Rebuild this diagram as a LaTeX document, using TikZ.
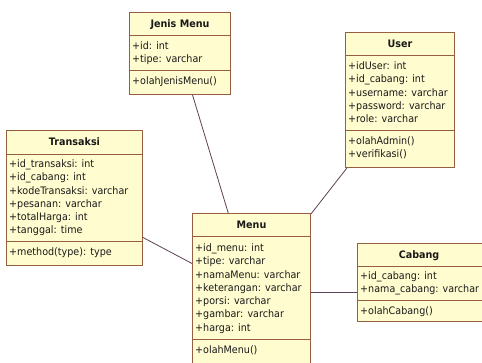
\documentclass[tikz,border=0pt]{standalone}
\usepackage{fontspec}
\setmainfont{DejaVu Sans}[FakeStretch=0.93]
\usetikzlibrary{calc}
\definecolor{clsfill}{RGB}{255,252,207}
\definecolor{clsline}{RGB}{150,95,65}
\definecolor{conn}{RGB}{95,65,85}
\definecolor{txtc}{RGB}{25,25,25}
\tikzset{
  classbox/.style={draw=clsline, fill=clsfill, line width=1pt, inner sep=0pt, rectangle, anchor=north west},
  divider/.style={draw=clsline, line width=1pt},
  classtitle/.style={font=\fontsize{10.3}{12}\selectfont\bfseries, text=txtc, inner sep=0pt, anchor=base},
  member/.style={font=\fontsize{10.3}{12}\selectfont, text=txtc, inner sep=0pt, anchor=base west},
  assoc/.style={draw=conn, line width=0.8pt},
}
\newcommand{\umlrows}[4]{%
  \foreach \t [count=\i] in {#4} {\node[member] (#2\i) at ($(#1.north west)+(3,{#3+3.5+(\i-1)*13.3})$) {\t};}}
\newcommand{\umldiv}[2]{%
  \draw[divider] ($(#1.north west)+(0,#2)$) -- ($(#1.north east)+(0,#2)$);}
\begin{document}
\begin{tikzpicture}[x=1pt,y=-1pt]
\useasboundingbox (0,0) rectangle (482,363);
\fill[white] (0,0) rectangle (482,363);
\clip (0,0) rectangle (482,363);

% Jenis Menu
\node[classbox, minimum width=101pt, minimum height=82pt] (jm) at (129,12) {};
\node[classtitle] (jmT) at ($(jm.north)+(0,15.8)$) {Jenis Menu};
\umldiv{jm}{24}
\umlrows{jm}{jmA}{34}{+id: int, +tipe: varchar}
\umldiv{jm}{58.8}
\umlrows{jm}{jmM}{69.3}{+olahJenisMenu()}

% User
\node[classbox, minimum width=109pt, minimum height=135pt] (user) at (345,32) {};
\node[classtitle] (userT) at ($(user.north)+(0,15.8)$) {User};
\umldiv{user}{24}
\umlrows{user}{userA}{34}{+idUser: int, +id\_cabang: int, +username: varchar, +password: varchar, +role: varchar}
\umldiv{user}{98.7}
\umlrows{user}{userM}{109.2}{+olahAdmin(), +verifikasi()}

% Transaksi
\node[classbox, minimum width=136pt, minimum height=135pt] (tr) at (6,130) {};
\node[classtitle] (trT) at ($(tr.north)+(0,16)$) {Transaksi};
\umldiv{tr}{24.5}
\umlrows{tr}{trA}{34}{+id\_transaksi: int, +id\_cabang: int, +kodeTransaksi: varchar, +pesanan: varchar, +totalHarga: int, +tanggal: time}
\umldiv{tr}{112}
\umlrows{tr}{trM}{122.5}{+method(type): type}

% Menu
\node[classbox, minimum width=118pt, minimum height=153pt] (menu) at (192,213) {};
\node[classtitle] (menuT) at ($(menu.north)+(0,16)$) {Menu};
\umldiv{menu}{24}
\umlrows{menu}{menuA}{35}{+id\_menu: int, +tipe: varchar, +namaMenu: varchar, +keterangan: varchar, +porsi: varchar, +gambar: varchar, +harga: int}
\umldiv{menu}{126.5}
\umlrows{menu}{menuM}{137}{+olahMenu()}

% Cabang
\node[classbox, minimum width=135pt, minimum height=78pt] (cab) at (357,243) {};
\node[classtitle] (cabT) at ($(cab.north west)+(62,15.5)$) {Cabang};
\umldiv{cab}{23.5}
\umlrows{cab}{cabA}{33}{+id\_cabang: int, +nama\_cabang: varchar}
\umldiv{cab}{58}
\umlrows{cab}{cabM}{68}{+olahCabang()}

% associations
\draw[assoc] (jm) -- (menu);
\draw[assoc] (user) -- (menu);
\draw[assoc] ($(tr.east)+(0,39.5)$) -- ($(menu.west)+(0,-26.5)$);
\draw[assoc] ($(cab.west)+(0,10)$) -- ($(menu.east)+(0,2.5)$);
\end{tikzpicture}
\end{document}
